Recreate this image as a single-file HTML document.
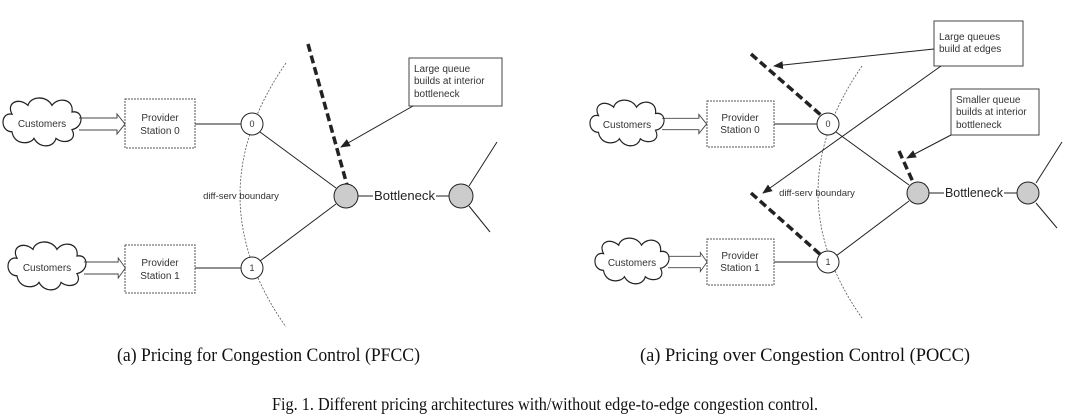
<!DOCTYPE html>
<html><head><meta charset="utf-8"><style>
html,body{margin:0;padding:0;background:#fff;}
svg{display:block}
.s{font-family:"Liberation Sans",sans-serif;font-size:10px;fill:#333}
.c{font-family:"Liberation Serif",serif;fill:#111}
</style></head><body>
<svg width="1090" height="417" viewBox="0 0 1090 417" xmlns="http://www.w3.org/2000/svg">
<defs>
<marker id="ah" markerWidth="10" markerHeight="8" refX="9" refY="4" orient="auto" markerUnits="userSpaceOnUse">
<path d="M0,0 L10,4 L0,8 z" fill="#222"/></marker>
<g id="cloud">
<path d="M-30,-8 C-42,-10 -42,8 -30,8 C-28,20 -12,20 -8,14 C-2,24 12,22 14,14 C22,20 36,16 30,6 C42,4 42,-12 30,-10 C32,-22 16,-24 10,-16 C4,-26 -12,-24 -14,-16 C-24,-24 -36,-18 -30,-8 z" fill="#fff" stroke="#222" stroke-width="1.2"/>
</g>
<g id="darrow">
<path d="M0,-6 H38 V-10 L46,0 L38,10 V6 H0" fill="none" stroke="#444" stroke-width="1"/>
</g>
</defs>
<g stroke="#222" fill="none" stroke-width="1">
<path d="M286,63 Q194,196 286,327" stroke="#555" stroke-dasharray="2,1.5" stroke-width="0.8"/>
<line x1="195" y1="124" x2="241" y2="124"/>
<line x1="195" y1="268" x2="241" y2="268"/>
<line x1="260" y1="132" x2="336" y2="188"/>
<line x1="260" y1="261" x2="336" y2="204"/>
<line x1="357" y1="196" x2="373" y2="196"/>
<line x1="436" y1="196" x2="450" y2="196"/>
<line x1="469" y1="186" x2="497" y2="142"/>
<line x1="469" y1="206" x2="490" y2="232"/>
<rect x="125" y="99" width="70" height="49" stroke="#555" stroke-dasharray="2,1"/>
<rect x="125" y="245" width="70" height="48" stroke="#555" stroke-dasharray="2,1"/>
<rect x="409" y="58" width="93" height="48" stroke="#444"/>
<line x1="413" y1="106" x2="341" y2="147" marker-end="url(#ah)"/>
<line x1="308" y1="44" x2="347" y2="185" stroke-width="3.5" stroke-dasharray="8,4"/>
<circle cx="252" cy="124" r="11" fill="#fff"/>
<circle cx="252" cy="268" r="11" fill="#fff"/>
<circle cx="346" cy="196" r="12" fill="#ccc"/>
<circle cx="461" cy="196" r="12" fill="#ccc"/>
<path d="M862,66 Q774,193 862,318" stroke="#555" stroke-dasharray="2,1.5" stroke-width="0.8"/>
<line x1="774" y1="124" x2="817" y2="124"/>
<line x1="774" y1="262" x2="817" y2="262"/>
<line x1="836" y1="132" x2="909" y2="185"/>
<line x1="836" y1="256" x2="909" y2="201"/>
<line x1="929" y1="193" x2="944" y2="193"/>
<line x1="1004" y1="193" x2="1017" y2="193"/>
<line x1="1036" y1="183" x2="1062" y2="142"/>
<line x1="1036" y1="203" x2="1057" y2="228"/>
<rect x="707" y="101" width="67" height="46" stroke="#555" stroke-dasharray="2,1"/>
<rect x="707" y="239" width="67" height="46" stroke="#555" stroke-dasharray="2,1"/>
<rect x="934" y="21" width="89" height="45" stroke="#444"/>
<rect x="951" y="89" width="88" height="46" stroke="#444"/>
<line x1="934" y1="49" x2="774" y2="66" marker-end="url(#ah)"/>
<line x1="941" y1="66" x2="763" y2="193" marker-end="url(#ah)"/>
<line x1="951" y1="135" x2="907" y2="158" marker-end="url(#ah)"/>
<line x1="751" y1="54" x2="822" y2="116" stroke-width="3.5" stroke-dasharray="8,4"/>
<line x1="751" y1="193" x2="822" y2="256" stroke-width="3.5" stroke-dasharray="8,4"/>
<line x1="899" y1="151" x2="913" y2="182" stroke-width="3.5" stroke-dasharray="8,4"/>
<circle cx="828" cy="124" r="11" fill="#fff"/>
<circle cx="828" cy="262" r="11" fill="#fff"/>
<circle cx="918" cy="193" r="11" fill="#ccc"/>
<circle cx="1028" cy="193" r="11" fill="#ccc"/>
</g>
<use href="#cloud" transform="translate(42,123) scale(1,1.1)"/>
<use href="#cloud" transform="translate(47,267) scale(1,1.1)"/>
<use href="#cloud" transform="translate(627,124) scale(0.95,1.05)"/>
<use href="#cloud" transform="translate(632,262) scale(0.95,1.05)"/>
<use href="#darrow" transform="translate(79,124)"/>
<use href="#darrow" transform="translate(84,268) scale(0.9,1)"/>
<use href="#darrow" transform="translate(662,124) scale(0.97,0.95)"/>
<use href="#darrow" transform="translate(668,262) scale(0.85,0.95)"/>
<g class="s" text-anchor="middle">
<text x="42" y="127">Customers</text>
<text x="47" y="271">Customers</text>
<text x="627" y="128">Customers</text>
<text x="632" y="266">Customers</text>
<text x="160" y="121">Provider</text><text x="160" y="134">Station 0</text>
<text x="160" y="266">Provider</text><text x="160" y="279">Station 1</text>
<text x="740" y="121">Provider</text><text x="740" y="133">Station 0</text>
<text x="740" y="259">Provider</text><text x="740" y="271">Station 1</text>
<text x="252" y="127" font-size="9">0</text>
<text x="252" y="271" font-size="9">1</text>
<text x="828" y="127" font-size="9">0</text>
<text x="828" y="265" font-size="9">1</text>
<text x="241" y="199" font-size="9.5">diff-serv boundary</text>
<text x="817" y="196" font-size="9.5">diff-serv boundary</text>
</g>
<g class="s" font-size="9.5">
<text x="414" y="72">Large queue</text>
<text x="414" y="84">builds at interior</text>
<text x="414" y="97">bottleneck</text>
<text x="939" y="40">Large queues</text>
<text x="939" y="52">build at edges</text>
<text x="956" y="103">Smaller queue</text>
<text x="956" y="115">builds at interior</text>
<text x="956" y="128">bottleneck</text>
<text x="374" y="200" font-size="13" fill="#222" textLength="61" lengthAdjust="spacingAndGlyphs">Bottleneck</text>
<text x="945" y="197" font-size="13" fill="#222" textLength="58" lengthAdjust="spacingAndGlyphs">Bottleneck</text>
</g>
<g class="c">
<text x="117" y="361" font-size="19" textLength="303" lengthAdjust="spacingAndGlyphs">(a) Pricing for Congestion Control (PFCC)</text>
<text x="640" y="361" font-size="19" textLength="330" lengthAdjust="spacingAndGlyphs">(a) Pricing over Congestion Control (POCC)</text>
<text x="272" y="410" font-size="18" textLength="546" lengthAdjust="spacingAndGlyphs">Fig. 1. Different pricing architectures with/without edge-to-edge congestion control.</text>
</g>
</svg>
</body></html>
